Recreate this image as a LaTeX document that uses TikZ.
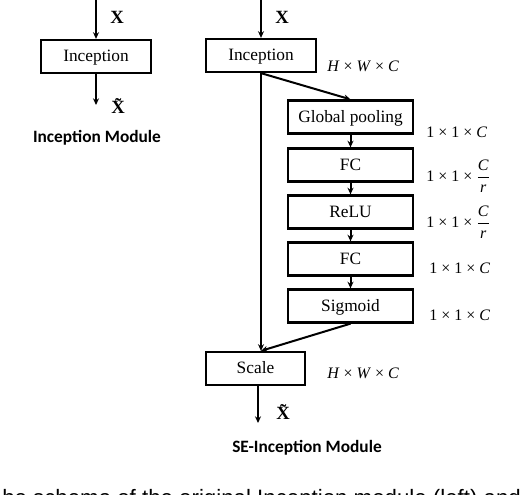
\documentclass[tikz,border=0pt]{standalone}
\usepackage{fontspec}
\setmainfont{Liberation Serif}
\newfontfamily\titlefont{Carlito}
\newfontfamily\capfont{Liberation Sans}
\usetikzlibrary{positioning,arrows.meta,calc}

\begin{document}
\begin{tikzpicture}[
  x=0.75pt, y=-0.75pt,
  blk/.style={draw=black, line width=1.7pt, fill=white, text height=10pt, text depth=2pt,
              font=\fontsize{13}{15}\selectfont, minimum width=82.5pt, minimum height=24.75pt, inner sep=0pt},
  seblk/.style={blk, minimum width=93.75pt},
  flow/.style={-{Stealth[length=5pt,width=4.5pt]}, line width=1.5pt},
  dimlbl/.style={font=\fontsize{12}{14}\selectfont, anchor=west, inner sep=0pt},
  xlbl/.style={font=\fontsize{14}{16}\selectfont\bfseries, inner sep=0pt},
  ttl/.style={font=\fontsize{13}{15}\selectfont\titlefont\bfseries, inner sep=0pt},
]
\clip (0,0) rectangle (524,494);
\fill[white] (0,0) rectangle (524,494);

% ── Left: plain Inception module ──────────────────────────────────────────────
\coordinate (in1)  at (96,0);
\node[blk] (inc1) at (96,56.5) {Inception};
\coordinate (out1) at (96,105);
\draw[flow] (in1) -- (inc1.north);
\draw[flow] (inc1.south) -- (out1);
\node[xlbl] at (117,17) {X};
\node[xlbl] at (118,106) {\~{X}};
\node[ttl] at (97,138) {Inception Module};

% ── Right: SE-Inception module ────────────────────────────────────────────────
\coordinate (in2) at (261,0);
\node[blk]   (inc2) at (261,55.5)  {Inception};
\node[seblk] (gp)   at (350.5,117) {Global pooling};
\node[seblk] (fc1)  at (350.5,165) {FC};
\node[seblk] (relu) at (350.5,212) {ReLU};
\node[seblk] (fc2)  at (350.5,259) {FC};
\node[seblk] (sig)  at (350.5,306) {Sigmoid};
\node[blk, minimum width=74.25pt] (scale) at (255.5,368.5) {Scale};
\coordinate (sc)   at (scale.north -| inc2.south);
\coordinate (out2) at (258,423);

\draw[flow] (in2) -- (inc2.north);
\draw[flow] (inc2.south) -- (gp.north);
\foreach \a/\b in {gp/fc1,fc1/relu,relu/fc2,fc2/sig}{ \draw[flow] (\a.south) -- (\b.north); }
\draw[flow] (inc2.south) -- (sc);
\draw[flow] (sig.south) -- (sc);
\draw[flow] (scale.south -| out2) -- (out2);

\node[xlbl] at (282,17) {X};
\node[xlbl] at (283,412) {\~{X}};
\node[ttl] at (307,448) {SE-Inception Module};

% dimension labels
\node[dimlbl] at (327,66)  {\textit{H} × \textit{W} × \textit{C}};
\node[dimlbl] at (426,132) {1 × 1 × \textit{C}};
\node[dimlbl] at (426,176) {1 × 1 × $\displaystyle\frac{\mbox{\itshape C}}{\mbox{\itshape r}}$};
\node[dimlbl] at (426,222) {1 × 1 × $\displaystyle\frac{\mbox{\itshape C}}{\mbox{\itshape r}}$};
\node[dimlbl] at (429,268) {1 × 1 × \textit{C}};
\node[dimlbl] at (429,315) {1 × 1 × \textit{C}};
\node[dimlbl] at (327,373) {\textit{H} × \textit{W} × \textit{C}};

% cut-off caption
\node[font=\fontsize{16.7}{18}\selectfont\capfont, anchor=base west, inner sep=0pt] (cap) at (2,505)
  {he schema of the original Inception module (left) and};
\end{tikzpicture}
\end{document}
